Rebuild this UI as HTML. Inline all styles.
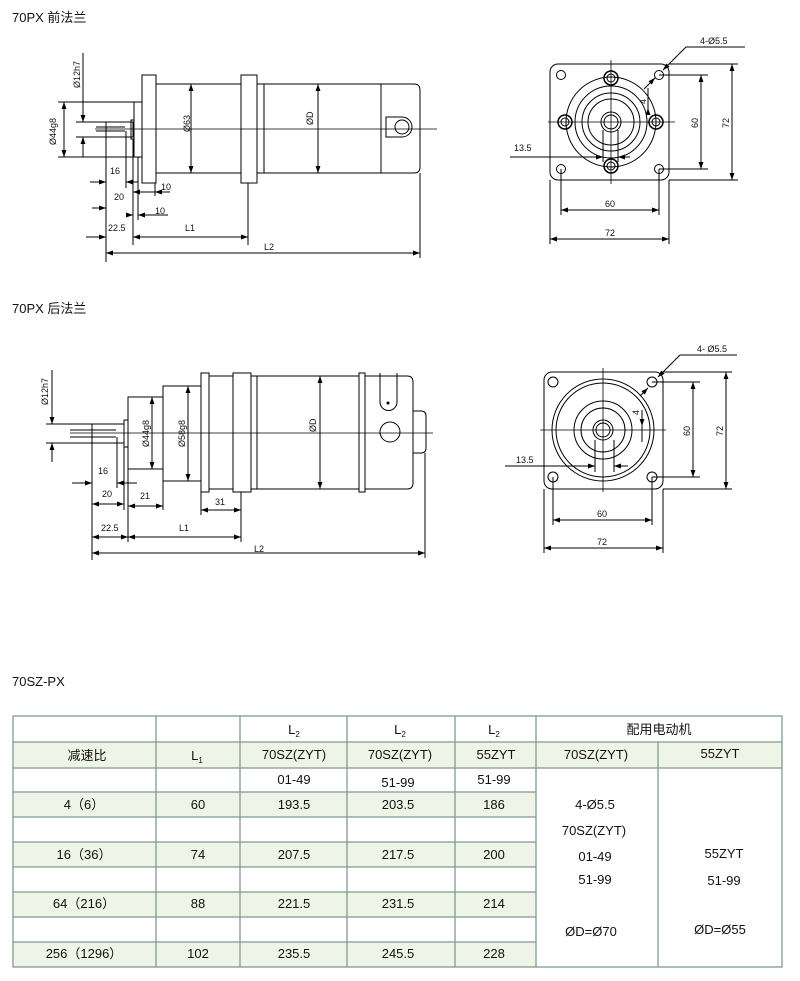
<!DOCTYPE html>
<html><head><meta charset="utf-8"><style>
body{margin:0;background:#fff}
svg{display:block}
text{font-family:"Liberation Sans","Noto Sans CJK SC",sans-serif;fill:#111}
.d{font-size:9px}
.t{font-size:13px}
.tb{font-size:13px;text-anchor:middle}
</style></head><body>
<svg width="800" height="981" viewBox="0 0 800 981" xmlns="http://www.w3.org/2000/svg">
<defs>
<marker id="a" viewBox="0 0 10 10" refX="10" refY="5" markerWidth="7" markerHeight="7" orient="auto-start-reverse" markerUnits="userSpaceOnUse"><path d="M0,1.5L10,5L0,8.5z" fill="#000"/></marker>
</defs>
<text class="t" x="12" y="22">70PX  前法兰</text>
<text class="t" x="12" y="313">70PX  后法兰</text>
<text class="t" x="12" y="686">70SZ-PX</text>

<g fill="none" stroke="#000" stroke-width="1">
<!-- TOP SIDE VIEW -->
<line x1="95" y1="129" x2="437" y2="129" stroke-width="0.8"/>
<rect x="106" y="122" width="27" height="15"/>
<line x1="96" y1="127" x2="125" y2="127"/><line x1="96" y1="131" x2="125" y2="131"/>
<rect x="131" y="120" width="3" height="19"/>
<rect x="134" y="102" width="8" height="55"/>
<rect x="142" y="75" width="14" height="108"/>
<rect x="156" y="84" width="85" height="89"/>
<rect x="241" y="75" width="16" height="108"/>
<rect x="257" y="84" width="7" height="89"/>
<rect x="264" y="84" width="117" height="89"/>
<path d="M381,84H414Q420,84 420,90V167Q420,173 414,173H381"/>
<path d="M386,117H402A10,10 0 0 1 402,137H386Z"/>
<circle cx="402" cy="127" r="7"/>
<!-- dims -->
<line x1="83" y1="53" x2="83" y2="122" marker-end="url(#a)"/>
<line x1="83" y1="157" x2="83" y2="137" marker-end="url(#a)"/>
<line x1="76" y1="122" x2="106" y2="122"/><line x1="76" y1="137" x2="106" y2="137"/>
<line x1="64" y1="102" x2="64" y2="157" marker-start="url(#a)" marker-end="url(#a)"/>
<line x1="58" y1="102" x2="142" y2="102"/><line x1="58" y1="157" x2="142" y2="157"/>
<line x1="191" y1="84" x2="191" y2="173" marker-start="url(#a)" marker-end="url(#a)"/>
<line x1="318" y1="84" x2="318" y2="173" marker-start="url(#a)" marker-end="url(#a)"/>
<line x1="106" y1="137" x2="106" y2="262"/>
<line x1="126" y1="131" x2="126" y2="188"/>
<line x1="133" y1="139" x2="133" y2="245"/>
<line x1="138" y1="157" x2="138" y2="220"/>
<line x1="155" y1="183" x2="155" y2="196"/>
<line x1="248" y1="183" x2="248" y2="245"/>
<line x1="420" y1="173" x2="420" y2="258"/>
<line x1="90" y1="182" x2="106" y2="182" marker-end="url(#a)"/>
<line x1="138" y1="182" x2="126" y2="182" marker-end="url(#a)"/>
<line x1="92" y1="208" x2="106" y2="208" marker-end="url(#a)"/>
<line x1="133" y1="192" x2="170" y2="192" marker-start="url(#a)"/>
<line x1="165" y1="192" x2="155" y2="192" marker-end="url(#a)"/>
<line x1="128" y1="215" x2="133" y2="215" marker-end="url(#a)"/>
<line x1="168" y1="215" x2="138" y2="215" marker-end="url(#a)"/>
<line x1="86" y1="237" x2="106" y2="237" marker-end="url(#a)"/>
<line x1="133" y1="237" x2="248" y2="237" marker-start="url(#a)" marker-end="url(#a)"/>
<line x1="106" y1="253" x2="420" y2="253" marker-start="url(#a)" marker-end="url(#a)"/>

<!-- TOP FRONT VIEW -->
<rect x="550" y="64" width="119" height="116" rx="8"/>
<line x1="548" y1="122" x2="675" y2="122" stroke-width="0.8"/>
<line x1="611" y1="60" x2="611" y2="184" stroke-width="0.8"/>
<circle cx="611" cy="122" r="45"/><circle cx="611" cy="122" r="36"/>
<circle cx="611" cy="122" r="29"/><circle cx="611" cy="122" r="23"/>
<circle cx="611" cy="122" r="10"/><circle cx="611" cy="122" r="7"/>
<circle cx="561" cy="75" r="4.5"/><circle cx="659" cy="75" r="4.5"/>
<circle cx="561" cy="169" r="4.5"/><circle cx="659" cy="169" r="4.5"/>
<circle cx="611" cy="78" r="7" stroke-width="1.5"/><circle cx="611" cy="78" r="4"/>
<circle cx="611" cy="166" r="7" stroke-width="1.5"/><circle cx="611" cy="166" r="4"/>
<circle cx="565" cy="122" r="7" stroke-width="1.5"/><circle cx="565" cy="122" r="4"/>
<circle cx="656" cy="122" r="7" stroke-width="1.5"/><circle cx="656" cy="122" r="4"/>
<line x1="659" y1="75" x2="708" y2="75"/><line x1="659" y1="169" x2="708" y2="169"/>
<line x1="669" y1="64" x2="738" y2="64"/><line x1="669" y1="180" x2="738" y2="180"/>
<line x1="701" y1="75" x2="701" y2="169" marker-start="url(#a)" marker-end="url(#a)"/>
<line x1="732" y1="64" x2="732" y2="180" marker-start="url(#a)" marker-end="url(#a)"/>
<line x1="561" y1="169" x2="561" y2="215"/><line x1="659" y1="169" x2="659" y2="215"/>
<line x1="550" y1="180" x2="550" y2="244"/><line x1="669" y1="180" x2="669" y2="244"/>
<line x1="561" y1="210" x2="659" y2="210" marker-start="url(#a)" marker-end="url(#a)"/>
<line x1="550" y1="239" x2="669" y2="239" marker-start="url(#a)" marker-end="url(#a)"/>
<line x1="603" y1="130" x2="603" y2="162"/><line x1="618" y1="130" x2="618" y2="162"/>
<line x1="510" y1="157" x2="603" y2="157" marker-end="url(#a)"/>
<line x1="630" y1="157" x2="618" y2="157" marker-end="url(#a)"/>
<line x1="686" y1="47" x2="745" y2="47"/>
<line x1="686" y1="47" x2="663" y2="70" marker-end="url(#a)"/>
<line x1="655" y1="78" x2="644" y2="89" marker-start="url(#a)"/>
<line x1="648" y1="88" x2="648" y2="112"/>
<line x1="648" y1="108" x2="648" y2="115" marker-start="url(#a)"/>

<!-- MIDDLE SIDE VIEW -->
<line x1="70" y1="433" x2="433" y2="433" stroke-width="0.8"/>
<rect x="92" y="424" width="32" height="19"/>
<line x1="70" y1="430" x2="116" y2="430"/><line x1="70" y1="437" x2="116" y2="437"/>
<rect x="124" y="420" width="4" height="27"/>
<rect x="128" y="397" width="35" height="72"/>
<rect x="163" y="386" width="38" height="95"/>
<rect x="201" y="373" width="8" height="119"/>
<rect x="209" y="376" width="24" height="113"/>
<rect x="233" y="373" width="18" height="119"/>
<rect x="251" y="376" width="6" height="113"/>
<rect x="257" y="376" width="102" height="113"/>
<rect x="359" y="373" width="6" height="119"/>
<path d="M365,376H407Q413,376 413,382V483Q413,489 407,489H365"/>
<path d="M380,373V402A8.5,8.5 0 0 0 397,402V373"/>
<circle cx="388" cy="403" r="1" fill="#000"/>
<circle cx="390" cy="432" r="10"/>
<path d="M413,411H421Q426,411 426,416V448Q426,453 421,453H413"/>
<line x1="52" y1="370" x2="52" y2="424" marker-end="url(#a)"/>
<line x1="52" y1="462" x2="52" y2="443" marker-end="url(#a)"/>
<line x1="46" y1="424" x2="92" y2="424"/><line x1="46" y1="443" x2="92" y2="443"/>
<line x1="152" y1="397" x2="152" y2="469" marker-start="url(#a)" marker-end="url(#a)"/>
<line x1="188" y1="386" x2="188" y2="481" marker-start="url(#a)" marker-end="url(#a)"/>
<line x1="320" y1="376" x2="320" y2="489" marker-start="url(#a)" marker-end="url(#a)"/>
<line x1="92" y1="443" x2="92" y2="560"/>
<line x1="117" y1="437" x2="117" y2="488"/>
<line x1="124" y1="447" x2="124" y2="510"/>
<line x1="128" y1="469" x2="128" y2="542"/>
<line x1="163" y1="481" x2="163" y2="510"/>
<line x1="201" y1="492" x2="201" y2="515"/>
<line x1="241" y1="492" x2="241" y2="542"/>
<line x1="425" y1="453" x2="425" y2="558"/>
<line x1="72" y1="483" x2="92" y2="483" marker-end="url(#a)"/>
<line x1="137" y1="483" x2="117" y2="483" marker-end="url(#a)"/>
<line x1="92" y1="504" x2="124" y2="504" marker-start="url(#a)" marker-end="url(#a)"/>
<line x1="128" y1="506" x2="163" y2="506" marker-start="url(#a)" marker-end="url(#a)"/>
<line x1="201" y1="510" x2="241" y2="510" marker-start="url(#a)" marker-end="url(#a)"/>
<line x1="92" y1="537" x2="128" y2="537" marker-start="url(#a)" marker-end="url(#a)"/>
<line x1="128" y1="537" x2="241" y2="537" marker-start="url(#a)" marker-end="url(#a)"/>
<line x1="92" y1="553" x2="425" y2="553" marker-start="url(#a)" marker-end="url(#a)"/>

<!-- MIDDLE FRONT VIEW -->
<rect x="544" y="372" width="119" height="117" rx="8"/>
<line x1="540" y1="430" x2="666" y2="430" stroke-width="0.8"/>
<line x1="603" y1="368" x2="603" y2="492" stroke-width="0.8"/>
<circle cx="603" cy="430" r="51"/><circle cx="603" cy="430" r="47"/>
<circle cx="603" cy="430" r="29"/><circle cx="603" cy="430" r="22"/>
<circle cx="603" cy="430" r="10"/><circle cx="603" cy="430" r="7"/>
<circle cx="553" cy="382" r="5"/><circle cx="652" cy="382" r="5"/>
<circle cx="553" cy="477" r="5"/><circle cx="652" cy="477" r="5"/>
<line x1="652" y1="382" x2="700" y2="382"/><line x1="652" y1="477" x2="700" y2="477"/>
<line x1="663" y1="372" x2="732" y2="372"/><line x1="663" y1="489" x2="732" y2="489"/>
<line x1="693" y1="382" x2="693" y2="477" marker-start="url(#a)" marker-end="url(#a)"/>
<line x1="726" y1="372" x2="726" y2="489" marker-start="url(#a)" marker-end="url(#a)"/>
<line x1="553" y1="477" x2="553" y2="525"/><line x1="652" y1="477" x2="652" y2="525"/>
<line x1="544" y1="489" x2="544" y2="553"/><line x1="663" y1="489" x2="663" y2="553"/>
<line x1="553" y1="520" x2="652" y2="520" marker-start="url(#a)" marker-end="url(#a)"/>
<line x1="544" y1="548" x2="663" y2="548" marker-start="url(#a)" marker-end="url(#a)"/>
<line x1="595" y1="440" x2="595" y2="472"/><line x1="614" y1="440" x2="614" y2="472"/>
<line x1="505" y1="466" x2="595" y2="466" marker-end="url(#a)"/>
<line x1="628" y1="466" x2="614" y2="466" marker-end="url(#a)"/>
<line x1="680" y1="355" x2="737" y2="355"/>
<line x1="680" y1="355" x2="658" y2="377" marker-end="url(#a)"/>
<line x1="648" y1="388" x2="640" y2="396" marker-start="url(#a)"/>
<line x1="642" y1="410" x2="642" y2="442"/>
<line x1="642" y1="418" x2="642" y2="426" marker-end="url(#a)"/>
</g>

<!-- labels -->
<g class="d">
<text transform="translate(80,88) rotate(-90)">Ø12h7</text>
<text transform="translate(56,145) rotate(-90)">Ø44g8</text>
<text transform="translate(190,132) rotate(-90)">Ø63</text>
<text transform="translate(313,125) rotate(-90)">ØD</text>
<text x="110" y="174">16</text><text x="114" y="200">20</text>
<text x="161" y="190">10</text><text x="155" y="214">10</text>
<text x="108" y="231">22.5</text><text x="185" y="231">L1</text><text x="264" y="250">L2</text>
<text x="700" y="44">4-Ø5.5</text>
<text x="514" y="151">13.5</text>
<text transform="translate(698,128) rotate(-90)">60</text>
<text transform="translate(729,128) rotate(-90)">72</text>
<text transform="translate(646,104) rotate(-90)">4</text>
<text x="605" y="207">60</text><text x="605" y="236">72</text>

<text transform="translate(48,405) rotate(-90)">Ø12h7</text>
<text transform="translate(149,447) rotate(-90)">Ø44g8</text>
<text transform="translate(185,447) rotate(-90)">Ø58g8</text>
<text transform="translate(316,432) rotate(-90)">ØD</text>
<text x="98" y="474">16</text><text x="102" y="497">20</text><text x="140" y="499">21</text>
<text x="215" y="505">31</text><text x="101" y="531">22.5</text><text x="179" y="531">L1</text><text x="254" y="552">L2</text>
<text x="697" y="352">4- Ø5.5</text>
<text x="516" y="463">13.5</text>
<text transform="translate(690,436) rotate(-90)">60</text>
<text transform="translate(723,436) rotate(-90)">72</text>
<text transform="translate(639,415) rotate(-90)">4</text>
<text x="597" y="517">60</text><text x="597" y="545">72</text>
</g>

<!-- TABLE -->
<g>
<rect x="13" y="742" width="523" height="26" fill="#eef4e6"/>
<rect x="536" y="742" width="246" height="26" fill="#eef4e6"/>
<rect x="13" y="792" width="523" height="25" fill="#eef4e6"/>
<rect x="13" y="842" width="523" height="25" fill="#eef4e6"/>
<rect x="13" y="892" width="523" height="25" fill="#eef4e6"/>
<rect x="13" y="942" width="523" height="25" fill="#eef4e6"/>
</g>
<g stroke="#7f9b95" stroke-width="1.3" fill="none">
<rect x="13" y="716" width="769" height="251"/>
<line x1="13" y1="742" x2="782" y2="742"/>
<line x1="13" y1="768" x2="782" y2="768"/>
<line x1="13" y1="792" x2="536" y2="792"/>
<line x1="13" y1="817" x2="536" y2="817"/>
<line x1="13" y1="842" x2="536" y2="842"/>
<line x1="13" y1="867" x2="536" y2="867"/>
<line x1="13" y1="892" x2="536" y2="892"/>
<line x1="13" y1="917" x2="536" y2="917"/>
<line x1="13" y1="942" x2="536" y2="942"/>
<line x1="156" y1="716" x2="156" y2="967"/>
<line x1="240" y1="716" x2="240" y2="967"/>
<line x1="347" y1="716" x2="347" y2="967"/>
<line x1="455" y1="716" x2="455" y2="967"/>
<line x1="536" y1="716" x2="536" y2="967"/>
<line x1="658" y1="742" x2="658" y2="967"/>
</g>
<g class="tb">
<text x="294" y="734">L<tspan font-size="8" dy="3">2</tspan></text>
<text x="400" y="734">L<tspan font-size="8" dy="3">2</tspan></text>
<text x="494" y="734">L<tspan font-size="8" dy="3">2</tspan></text>
<text x="659" y="734">配用电动机</text>
<text x="87" y="760">减速比</text>
<text x="197" y="760">L<tspan font-size="8" dy="3">1</tspan></text>
<text x="294" y="759">70SZ(ZYT)</text>
<text x="400" y="759">70SZ(ZYT)</text>
<text x="496" y="759">55ZYT</text>
<text x="596" y="759">70SZ(ZYT)</text>
<text x="720" y="758">55ZYT</text>
<text x="294" y="784">01-49</text><text x="398" y="787">51-99</text><text x="494" y="784">51-99</text>
<text x="84" y="809">4（6）</text><text x="198" y="809">60</text><text x="294" y="809">193.5</text><text x="398" y="809">203.5</text><text x="494" y="809">186</text>
<text x="84" y="859">16（36）</text><text x="198" y="859">74</text><text x="294" y="859">207.5</text><text x="398" y="859">217.5</text><text x="494" y="859">200</text>
<text x="84" y="908">64（216）</text><text x="198" y="908">88</text><text x="294" y="908">221.5</text><text x="398" y="908">231.5</text><text x="494" y="908">214</text>
<text x="84" y="958">256（1296）</text><text x="198" y="958">102</text><text x="294" y="958">235.5</text><text x="398" y="958">245.5</text><text x="494" y="958">228</text>
<text x="595" y="809">4-Ø5.5</text>
<text x="594" y="835">70SZ(ZYT)</text>
<text x="595" y="861">01-49</text>
<text x="595" y="884">51-99</text>
<text x="591" y="936">ØD=Ø70</text>
<text x="724" y="858">55ZYT</text>
<text x="724" y="885">51-99</text>
<text x="720" y="934">ØD=Ø55</text>
</g>
</svg>
</body></html>
